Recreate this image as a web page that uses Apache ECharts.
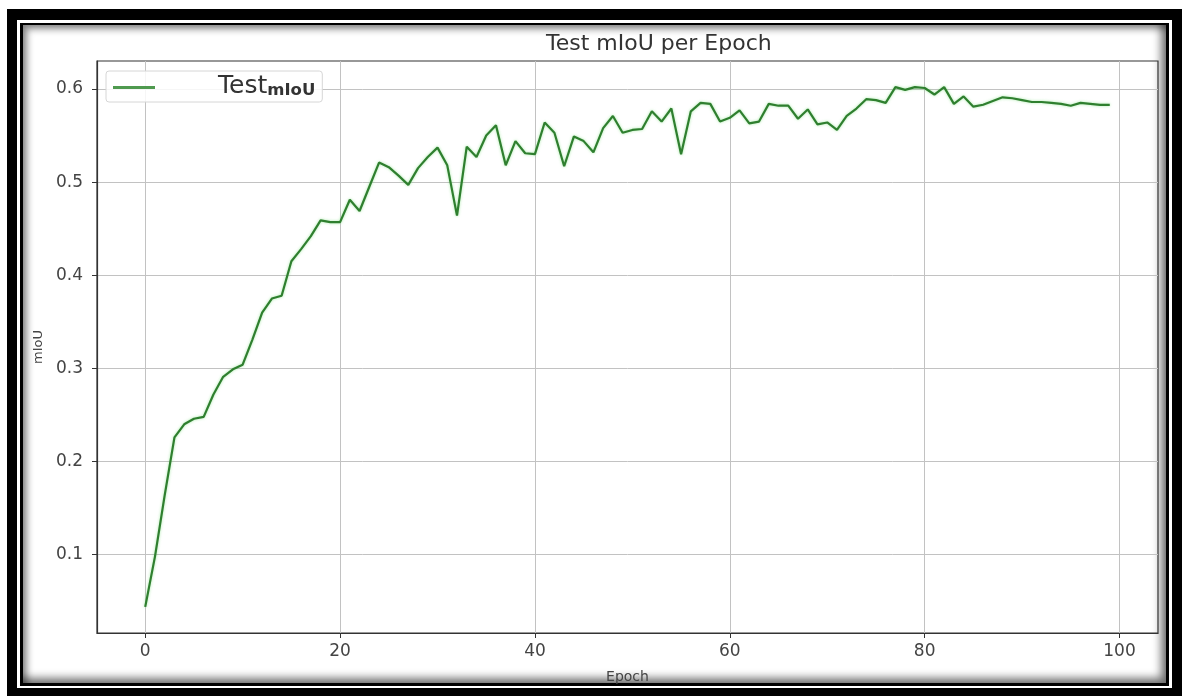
<!DOCTYPE html>
<html>
<head>
<meta charset="utf-8">
<title>Test mIoU per Epoch</title>
<script src="https://cdn.jsdelivr.net/npm/echarts@6/dist/echarts.min.js"></script>
<style>
  html, body { margin: 0; padding: 0; background: #ffffff; }
  body { width: 1182px; height: 696px; position: relative; overflow: hidden; }
  .box { position: absolute; box-sizing: border-box; }
  #frameOuter { left: 7px; top: 9px; width: 1175px; height: 687px; background: #000; }
  #frameGap { left: 17px; top: 20px; width: 1155px; height: 668px; background: #fff; }
  #frameLine { left: 20px; top: 23px; width: 1149px; height: 663px; background: #000; }
  #framePanel {
    left: 23px; top: 25px; width: 1143px; height: 658px; background: #fff;
    box-shadow: inset -5px -5px 9px rgba(0,0,0,0.55), inset 4px 4px 7px rgba(0,0,0,0.45);
  }
  #chart { position: absolute; left: 0; top: 0; width: 1182px; height: 696px; }
</style>
</head>
<body>
<div class="box" id="frameOuter"></div>
<div class="box" id="frameGap"></div>
<div class="box" id="frameLine"></div>
<div class="box" id="framePanel"></div>
<div id="chart"></div>
<script>
// Test mIoU recorded after each training epoch (epochs 0..99)
const miou = [
  0.044, 0.098, 0.164, 0.226, 0.240, 0.246, 0.248, 0.272, 0.291, 0.299,
  0.304, 0.331, 0.360, 0.375, 0.378, 0.415, 0.428, 0.442, 0.459, 0.457,
  0.457, 0.481, 0.469, 0.495, 0.521, 0.516, 0.507, 0.497, 0.515, 0.527,
  0.537, 0.518, 0.464, 0.538, 0.527, 0.550, 0.561, 0.518, 0.544, 0.531,
  0.530, 0.564, 0.553, 0.517, 0.549, 0.544, 0.532, 0.558, 0.571, 0.553,
  0.556, 0.557, 0.576, 0.565, 0.579, 0.530, 0.576, 0.585, 0.584, 0.565,
  0.569, 0.577, 0.563, 0.565, 0.584, 0.582, 0.582, 0.568, 0.578, 0.562,
  0.564, 0.556, 0.571, 0.579, 0.589, 0.588, 0.585, 0.602, 0.599, 0.602,
  0.601, 0.594, 0.602, 0.584, 0.592, 0.581, 0.583, 0.587, 0.591, 0.590,
  0.588, 0.586, 0.586, 0.585, 0.584, 0.582, 0.585, 0.584, 0.583, 0.583
];
const epochs = miou.map((_, i) => i);

// Tick labels on both axes
const xTicks = [0, 20, 40, 60, 80, 100];
const yTicks = [0.1, 0.2, 0.3, 0.4, 0.5, 0.6];

// Axis extents with a 5% margin around the data
const xRange = [-4.95, 103.95];
const yRange = [0.016, 0.630];

const seriesName = 'Test mIoU';
const lineColor = '#2f7f2f';
const font = 'DejaVu Sans';

const chart = echarts.init(document.getElementById('chart'), null, { renderer: 'canvas' });

chart.setOption({
  backgroundColor: 'transparent',
  animation: false,
  textStyle: { fontFamily: font },
  title: {
    text: 'Test mIoU per Epoch',
    left: 541,
    top: 28,
    textStyle: { fontFamily: font, fontSize: 22, fontWeight: 'normal', color: '#333' }
  },
  grid: {
    left: 97, right: 24, top: 61, bottom: 63,
    show: true, borderColor: '#333', borderWidth: 1.2, backgroundColor: 'transparent'
  },
  legend: {
    left: 106,
    top: 71,
    icon: 'rect',
    itemWidth: 42,
    itemHeight: 3,
    padding: [3, 7, 3, 7],
    backgroundColor: 'rgba(255,255,255,0.85)',
    borderColor: '#d6d6d6',
    borderWidth: 1,
    borderRadius: 3,
    data: [seriesName],
    formatter: () => '{t|Test}{m|mIoU}',
    textStyle: {
      rich: {
        t: { fontFamily: font, fontSize: 25, color: '#333', lineHeight: 23, padding: [0, 0, 0, 58], verticalAlign: 'bottom' },
        m: { fontFamily: font, fontSize: 16.5, fontWeight: 'bold', color: '#333', lineHeight: 23, verticalAlign: 'bottom' }
      }
    }
  },
  xAxis: {
    type: 'value',
    min: xRange[0],
    max: xRange[1],
    name: 'Epoch',
    nameLocation: 'middle',
    nameGap: 37,
    nameTextStyle: { fontFamily: font, fontSize: 14, color: '#444' },
    axisLine: { show: true, onZero: false, lineStyle: { color: '#333', width: 1.2 } },
    axisTick: { show: true, customValues: xTicks, length: 5, lineStyle: { color: '#333' } },
    axisLabel: { customValues: xTicks, fontSize: 17, color: '#444', margin: 10 },
    splitLine: { show: true, lineStyle: { color: '#c2c2c2', width: 1 } }
  },
  yAxis: {
    type: 'value',
    min: yRange[0],
    max: yRange[1],
    name: 'mIoU',
    nameLocation: 'middle',
    nameRotate: 90,
    nameGap: 52,
    nameTextStyle: { fontFamily: font, fontSize: 13, color: '#444' },
    axisLine: { show: true, onZero: false, lineStyle: { color: '#333', width: 1.2 } },
    axisTick: { show: true, customValues: yTicks, length: 5, lineStyle: { color: '#333' } },
    axisLabel: { customValues: yTicks, fontSize: 17, color: '#444', margin: 14, formatter: v => v.toFixed(1) },
    splitLine: { show: true, lineStyle: { color: '#c2c2c2', width: 1 } }
  },
  series: [{
    name: seriesName,
    type: 'line',
    data: epochs.map((e, i) => [e, miou[i]]),
    showSymbol: false,
    itemStyle: { color: '#4f9a4f' },
    lineStyle: {
      color: lineColor, width: 2.2,
      shadowColor: 'rgba(110,220,110,0.6)', shadowBlur: 3
    }
  }]
});
</script>
</body>
</html>
